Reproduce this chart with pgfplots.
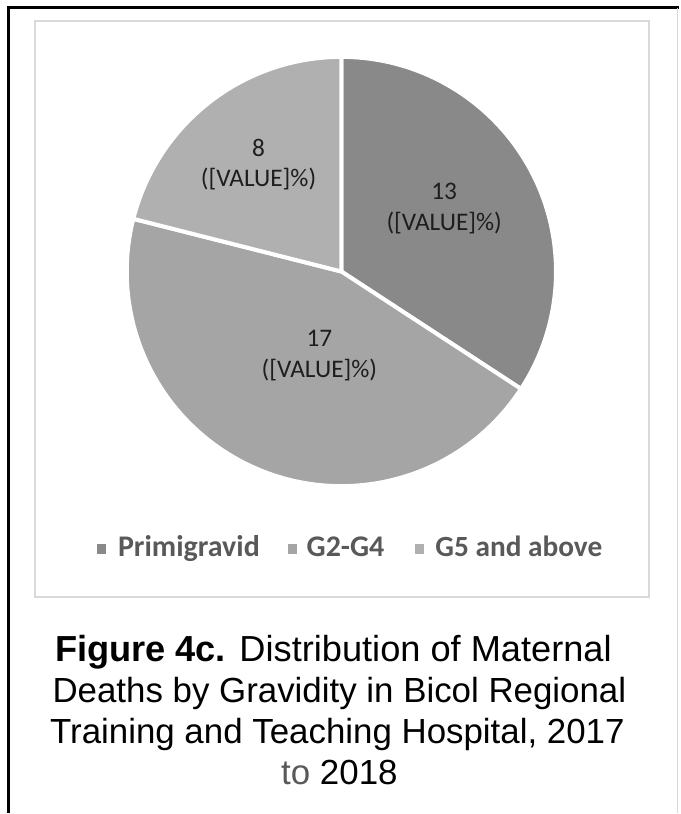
\documentclass[border=0pt]{standalone}
\usepackage{pgfplots}
\pgfplotsset{compat=1.18}
\usepackage{pgfplotstable}
\usepackage{fontspec}
\setmainfont{Liberation Sans}
\newfontfamily\carlito{Carlito}
\definecolor{sA}{RGB}{137,137,137}
\definecolor{sB}{RGB}{165,165,165}
\definecolor{sC}{RGB}{176,176,176}
\definecolor{txt}{RGB}{89,89,89}
\definecolor{lbl}{RGB}{30,30,30}
\definecolor{boxc}{RGB}{217,217,217}
\pgfplotstableread{
label value
Primigravid 13
G2-G4 17
G5andabove 8
}\piedata
\begin{document}
\begin{tikzpicture}
\pgfplotstablegetelem{0}{value}\of\piedata \pgfmathtruncatemacro\va{\pgfplotsretval}
\pgfplotstablegetelem{1}{value}\of\piedata \pgfmathtruncatemacro\vb{\pgfplotsretval}
\pgfplotstablegetelem{2}{value}\of\piedata \pgfmathtruncatemacro\vc{\pgfplotsretval}
\pgfmathsetmacro\tot{\va+\vb+\vc}
\pgfmathsetmacro\aA{90}
\pgfmathsetmacro\aB{90-360*\va/\tot}
\pgfmathsetmacro\aC{\aB-360*\vb/\tot}
\pgfmathsetmacro\aD{\aC-360*\vc/\tot}
\begin{axis}[x=0.75pt,y=0.75pt,xmin=0,xmax=680,ymin=0,ymax=814,y dir=reverse,hide axis,clip=false]
\fill[white] (axis cs:0,0) rectangle (axis cs:680,814);
% outer frame
\draw[black,line width=2.25pt] (axis cs:9,814) -- (axis cs:9,8) -- (axis cs:680,8);
\draw[boxc,line width=0.75pt] (axis cs:679,8) -- (axis cs:679,814);
% chart area box
\draw[boxc,line width=1.5pt] (axis cs:35,21) rectangle (axis cs:650,598);
% pie slices
\filldraw[fill=sA,draw=white,line width=3pt,line join=round] (axis cs:342,272) -- ++(\aA:161.25pt) arc[start angle=\aA,end angle=\aB,radius=161.25pt] -- cycle;
\filldraw[fill=sB,draw=white,line width=3pt,line join=round] (axis cs:342,272) -- ++(\aB:161.25pt) arc[start angle=\aB,end angle=\aC,radius=161.25pt] -- cycle;
\filldraw[fill=sC,draw=white,line width=3pt,line join=round] (axis cs:342,272) -- ++(\aC:161.25pt) arc[start angle=\aC,end angle=\aD,radius=161.25pt] -- cycle;
% slice labels
\node[align=center,inner sep=0pt,text=lbl,font=\carlito\fontsize{19}{23}\selectfont] at (axis cs:445,209) {\va\\([VALUE]\%)};
\node[align=center,inner sep=0pt,text=lbl,font=\carlito\fontsize{19}{23}\selectfont] at (axis cs:320,356) {\vb\\([VALUE]\%)};
\node[align=center,inner sep=0pt,text=lbl,font=\carlito\fontsize{19}{23}\selectfont] at (axis cs:259,165) {\vc\\([VALUE]\%)};
% legend
\fill[sA] (axis cs:97,545) rectangle (axis cs:106,555);
\fill[sB] (axis cs:289,545) rectangle (axis cs:298,555);
\fill[sC] (axis cs:416,545) rectangle (axis cs:425,555);
\node[anchor=base west,inner sep=0pt,text=txt,font=\carlito\bfseries\fontsize{22.5}{26}\selectfont] at (axis cs:118,558) {Primigravid};
\node[anchor=base west,inner sep=0pt,text=txt,font=\carlito\bfseries\fontsize{22.5}{26}\selectfont] at (axis cs:307,558) {G2-G4};
\node[anchor=base west,inner sep=0pt,text=txt,font=\carlito\bfseries\fontsize{22}{26}\selectfont] at (axis cs:436,558) {G5 and above};
% caption
\node[anchor=base,inner sep=0pt,font=\fontsize{27.2}{31}\selectfont] at (axis cs:334,663) {\textbf{Figure 4c.} Distribution of Maternal};
\node[anchor=base,inner sep=0pt,font=\fontsize{26.2}{31}\selectfont] at (axis cs:340,704) {Deaths by Gravidity in Bicol Regional};
\node[anchor=base,inner sep=0pt,font=\fontsize{26.2}{31}\selectfont] at (axis cs:338,745) {Training and Teaching Hospital, 2017};
\node[anchor=base,inner sep=0pt,font=\fontsize{26.2}{31}\selectfont] at (axis cs:340,786) {{\color{txt}to} 2018};
\end{axis}
\end{tikzpicture}
\end{document}
